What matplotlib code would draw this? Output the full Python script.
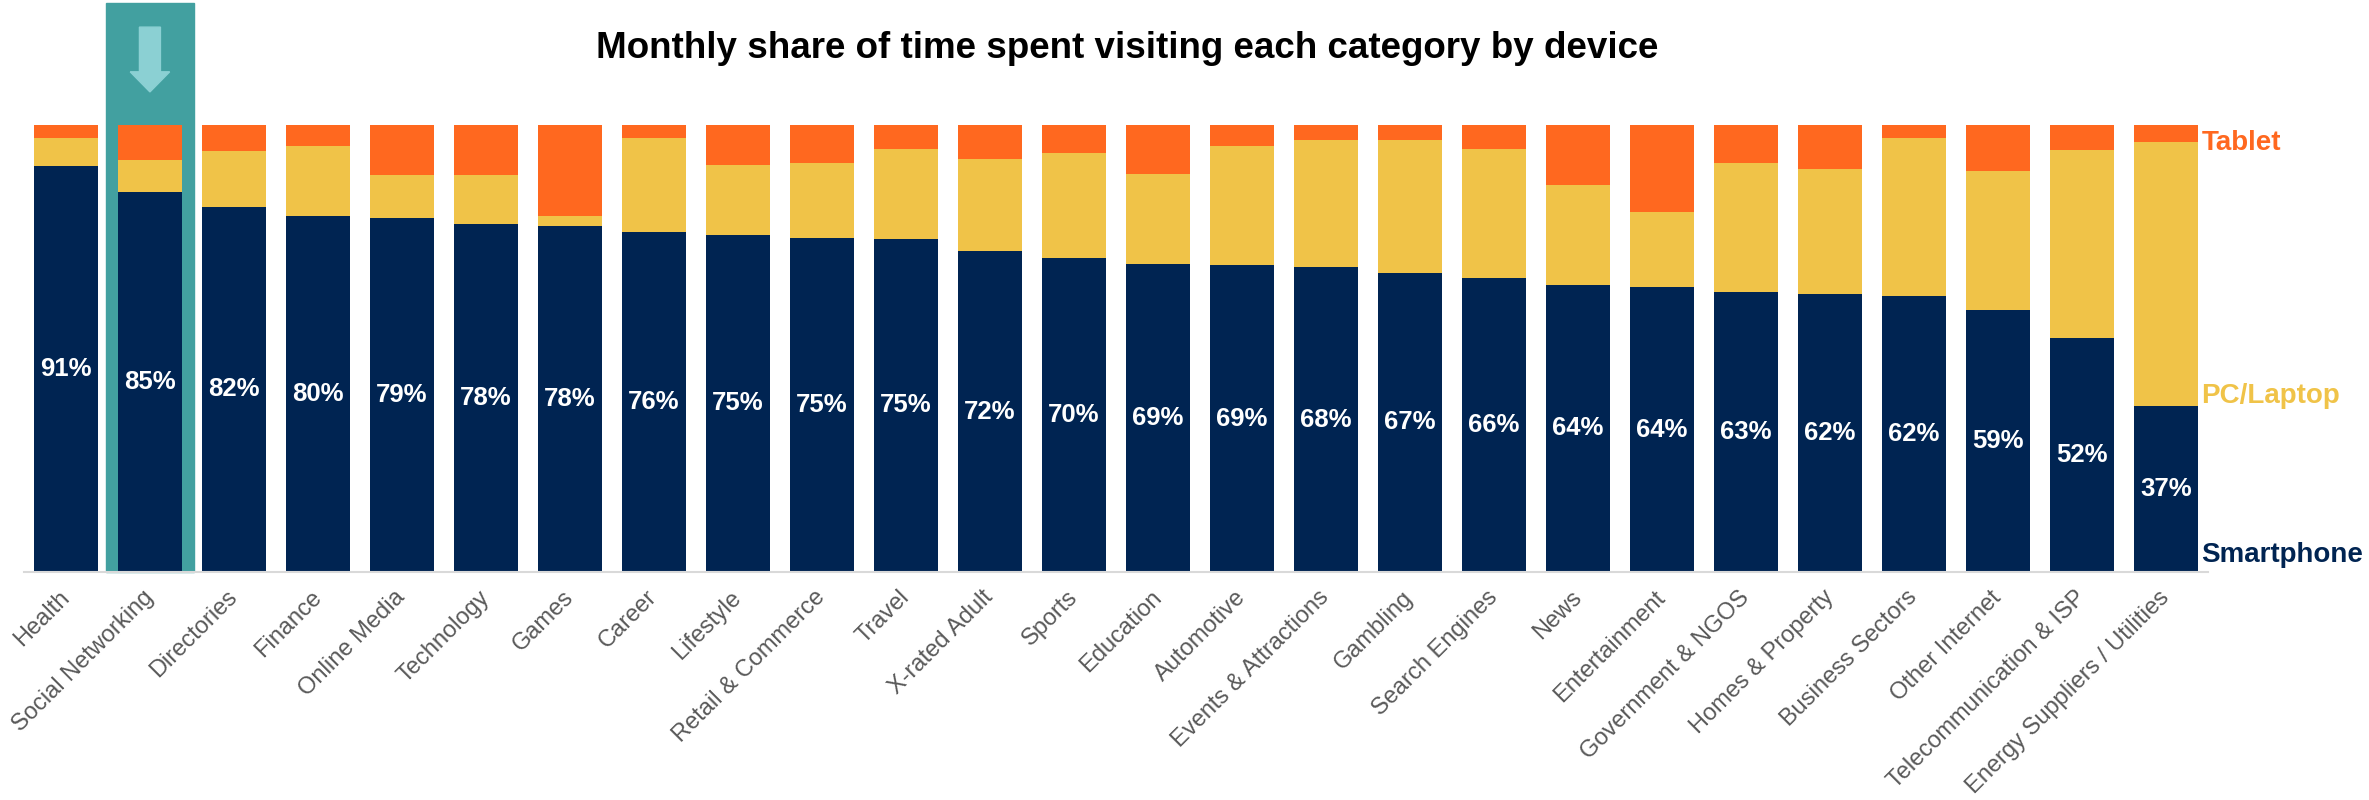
import matplotlib
matplotlib.use("Agg")
import matplotlib.pyplot as plt
from matplotlib.patches import Rectangle, FancyArrow
import numpy as np

plt.rcParams["font.family"] = ["Liberation Sans", "DejaVu Sans"]

# data (share of monthly time, %)
categories = [
    "Health", "Social Networking", "Directories", "Finance", "Online Media",
    "Technology", "Games", "Career", "Lifestyle", "Retail & Commerce",
    "Travel", "X-rated Adult", "Sports", "Education", "Automotive",
    "Events & Attractions", "Gambling", "Search Engines", "News",
    "Entertainment", "Government & NGOS", "Homes & Property",
    "Business Sectors", "Other Internet", "Telecommunication & ISP",
    "Energy Suppliers / Utilities",
]
smartphone = [90.8, 84.9, 81.7, 79.6, 79.3, 77.9, 77.5, 76.1, 75.4, 74.8,
              74.6, 71.8, 70.2, 69.0, 68.6, 68.2, 66.9, 65.7, 64.3, 63.7,
              62.6, 62.3, 61.7, 58.6, 52.3, 37.1]
pc_laptop = [6.2, 7.3, 12.5, 15.6, 9.5, 10.9, 2.1, 20.9, 15.6, 16.6,
             20.0, 20.7, 23.6, 20.1, 26.8, 28.4, 29.8, 28.9, 22.2, 16.8,
             28.9, 27.9, 35.3, 31.2, 42.2, 59.2]
tablet = [3.0, 7.8, 5.8, 4.8, 11.2, 11.2, 20.4, 3.0, 9.0, 8.6,
          5.4, 7.5, 6.2, 10.9, 4.6, 3.4, 3.3, 5.4, 13.5, 19.5,
          8.5, 9.8, 3.0, 10.2, 5.5, 3.7]
highlight = "Social Networking"

NAVY = "#002452"
YELLOW = "#F0C348"
ORANGE = "#FF681F"
TEAL = "#42A0A0"
ARROW = "#8BD0D3"
GREY = "#595959"

x = np.arange(len(categories))
smartphone = np.array(smartphone)
pc_laptop = np.array(pc_laptop)
tablet = np.array(tablet)

fig = plt.figure(figsize=(23.69, 8), dpi=100)
ax = fig.add_axes([0.0101, 0.285, 0.922, 0.55875])

width = 0.77
ax.bar(x, smartphone, width, color=NAVY, zorder=2)
ax.bar(x, pc_laptop, width, bottom=smartphone, color=YELLOW, zorder=2)
ax.bar(x, tablet, width, bottom=smartphone + pc_laptop, color=ORANGE, zorder=2)

# highlighted column with arrow
hi = categories.index(highlight)
ax.add_patch(Rectangle((hi - 0.52, 0), 1.04, 127.3, color=TEAL, zorder=1,
                       clip_on=False))
ax.add_patch(FancyArrow(hi, 121.9, 0, -14.5, width=0.25, head_width=0.47,
                        head_length=4.5, length_includes_head=True,
                        color=ARROW, zorder=3, clip_on=False))

for xi, v in zip(x, smartphone):
    ax.text(xi, v / 2, f"{v:.0f}%", ha="center", va="center", color="white",
            fontsize=18.5, fontweight="bold", zorder=4)

ax.set_xlim(-0.5, 25.5)
ax.set_ylim(0, 100)
ax.set_yticks([])
ax.set_xticks(x)
ax.set_xticklabels(categories, rotation=45, ha="right", va="center",
                   rotation_mode="anchor", fontsize=17, color=GREY)
ax.tick_params(axis="x", length=0, pad=16)
for s in ["top", "right", "left"]:
    ax.spines[s].set_visible(False)
ax.spines["bottom"].set_color("#D9D9D9")
ax.spines["bottom"].set_linewidth(1.5)
ax.spines["bottom"].set_zorder(5)

# series names at the right end
lx = 25.42
ax.text(lx, 94.4, "Tablet", color=ORANGE, fontsize=20, fontweight="bold",
        va="baseline", ha="left")
ax.text(lx, 37.9, "PC/Laptop", color=YELLOW, fontsize=20, fontweight="bold",
        va="baseline", ha="left")
ax.text(lx, 2.3, "Smartphone", color=NAVY, fontsize=20, fontweight="bold",
        va="baseline", ha="left")

fig.text(1127 / 2369, 1 - 48 / 800,
         "Monthly share of time spent visiting each category by device",
         ha="center", va="center", fontsize=26.5, fontweight="bold", color="black")

fig.savefig("out.png", dpi=100, facecolor="white")
